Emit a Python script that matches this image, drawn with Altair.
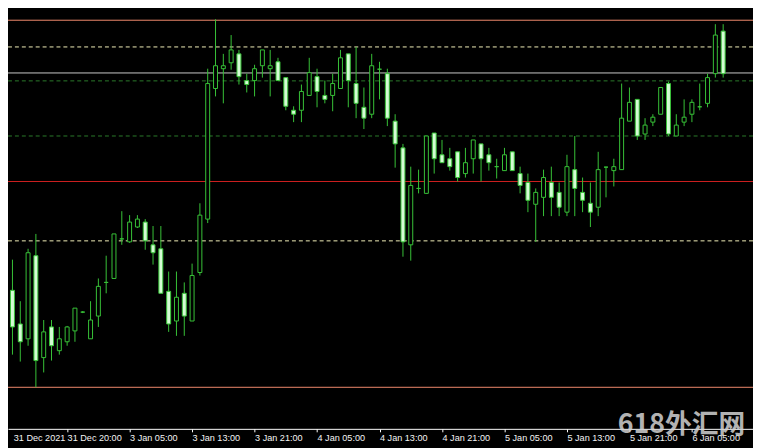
import altair as alt
import pandas as pd

# ---- candle data (hourly bars, price in chart points) ----
opens = [140, 106, 91, 175, 72, 103, 79, 88, 99, 118, 91, 114, 148, 152, 192, 189, 204, 209, 186, 182,
         139, 109, 137, 109, 158, 212, 344, 364, 370, 379, 352, 352, 367, 364, 371, 355, 322, 322, 337, 356,
         337, 337, 344, 379, 349, 325, 318, 363.5, 359, 311, 284, 186, 243, 238, 299, 277, 273, 280, 258, 273,
         288, 277, 265, 261, 280, 258, 249, 227, 234, 249, 239, 219, 262, 239, 228, 224, 264.5, 261, 262, 311,
         333, 298, 310, 318, 349, 296, 310, 318, 325.5, 329, 359, 402]
closes = [103, 88, 178, 69, 98, 84, 91, 103, 122, 118, 110, 144, 148, 197, 192, 209, 212, 190, 178, 137,
          106, 133, 114, 155, 216, 349, 367, 367, 383, 356, 348, 364, 383, 367, 352, 326, 318, 341, 360, 341,
          333, 349, 375, 352, 329, 314, 367, 363.5, 314, 288, 189, 246, 243, 296, 273, 269, 265, 254, 269, 292,
          273, 269, 265, 277, 261, 246, 231, 239, 254, 234, 224, 265, 243, 231, 219, 262, 264.5, 265, 314, 330,
          296, 307, 315, 345, 298, 307, 315, 330, 325.5, 355, 398, 359]
highs = [171, 129, 182, 197, 110, 110, 103, 104, 122, 119, 129, 152, 175, 197, 220, 216, 216, 212, 205, 205,
         159, 159, 148, 167, 228, 364, 414, 379, 398, 383, 359, 368, 383, 383, 375, 355, 326, 348, 375, 364,
         352, 359, 383, 379, 386, 345, 379, 371, 364, 318, 288, 265, 262, 296, 299, 292, 284, 280, 284, 292,
         288, 284, 273, 284, 280, 265, 258, 243, 262, 265, 249, 277, 296, 254, 249, 280, 265, 273, 349, 345,
         333, 314, 318, 345, 351, 318, 333, 333, 349, 359, 409, 409]
lows = [75, 68, 84, 42, 57, 69, 75, 84, 88, 117, 91, 103, 137, 152, 186, 188, 203, 181, 166, 137,
        98, 94, 94, 109, 155, 208, 336, 329, 363, 348, 340, 336, 355, 336, 352, 322, 310, 310, 337, 325,
        329, 321, 344, 325, 314, 303, 314, 333, 306, 264, 174, 170, 238, 238, 258, 269, 261, 250, 254, 258,
        250, 261, 253, 261, 261, 238, 219, 189, 215, 215, 215, 215, 215, 219, 204, 215, 234, 245, 262, 311,
        292, 292, 306, 318, 296, 296, 306, 310, 322, 325, 355, 355]
bar_index = list(range(len(opens)))

# ---- time axis labels ----
tick_pos = [0.1, 7, 15, 23, 31, 39, 47, 55, 63, 71, 79, 87]
tick_labels = ["31 Dec 2021", "31 Dec 20:00", "3 Jan 05:00", "3 Jan 13:00", "3 Jan 21:00",
               "4 Jan 05:00", "4 Jan 13:00", "4 Jan 21:00", "5 Jan 05:00", "5 Jan 13:00",
               "5 Jan 21:00", "6 Jan 05:00"]

# ---- horizontal levels ----
salmon_levels = [413, 42]
red_levels = [250]
gray_levels = [359.7]
pale_dashed_levels = [386, 190]
green_dashed_levels = [351.7, 296]

watermark = ["618外汇网"]

df = pd.DataFrame({"i": bar_index, "open": opens, "high": highs, "low": lows, "close": closes})

GREEN = "#38c238"
BEAR_FILL = "#d4fcd4"

label_expr = ("[" + ",".join("'%s'" % t for t in tick_labels) + "][indexof(["
              + ",".join(str(p) for p in tick_pos) + "], datum.value)]")

xscale = alt.Scale(domain=[0.0625, 94.1875], nice=False, zero=False)
yscale = alt.Scale(domain=[0, 423], nice=False, zero=False)

xaxis = alt.Axis(
    values=tick_pos, labelExpr=label_expr, title=None, grid=False,
    domainColor="#ffffff", domainWidth=1, tickColor="#ffffff", tickSize=3, tickWidth=1,
    tickOpacity={"condition": {"test": "datum.value < 1", "value": 0}, "value": 1},
    labelColor="#f4f4f4", labelFont="Liberation Sans", labelFontSize=9.2,
    labelAlign="left", labelBaseline="top", labelPadding=2, labelOffset=0,
    labelOverlap=False, labelFlush=False, labelBound=False,
)

X = alt.X("i:Q", scale=xscale, axis=xaxis)


def level_layer(values, color, dash=None):
    kw = dict(color=color, strokeWidth=1)
    if dash:
        kw["strokeDash"] = dash
    return alt.Chart(pd.DataFrame({"v": values})).mark_rule(**kw).encode(
        y=alt.Y("v:Q", scale=yscale, axis=None)
    )


levels = [
    level_layer(green_dashed_levels, "#2a7a2a", [4, 3]),
    level_layer(pale_dashed_levels, "#f2efb8", [4, 3]),
    level_layer(gray_levels, "#c8c8c8"),
    level_layer(red_levels, "#d02020"),
    level_layer(salmon_levels, "#f08a6c"),
]

base = alt.Chart(df)
wicks = base.mark_rule(color=GREEN, strokeWidth=1).encode(
    x=X,
    y=alt.Y("low:Q", scale=yscale, axis=None),
    y2="high:Q",
)
bodies = base.mark_bar(size=4, stroke=GREEN, strokeWidth=1, cornerRadius=0).encode(
    x=X,
    y=alt.Y("open:Q", scale=yscale, axis=None),
    y2="close:Q",
    fill=alt.condition("datum.close >= datum.open", alt.value("#000000"), alt.value(BEAR_FILL)),
)

wm = alt.Chart(pd.DataFrame({"t": watermark})).mark_text(
    align="right", baseline="alphabetic", fontSize=27, fontWeight="bold",
    font="Noto Sans CJK SC", color="#d2d2d2", opacity=0.85,
).encode(text="t:N", x=alt.value(745), y=alt.value(427))

chart = alt.layer(*levels, wicks, bodies, wm).properties(
    width=753, height=423,
    padding={"left": 0, "top": 0, "right": 0, "bottom": 17},
    autosize=alt.AutoSizeParams(type="none"),
    background="#000000",
).configure_view(stroke=None)

chart.save("out.html", embed_options={"renderer": "svg", "actions": False})
